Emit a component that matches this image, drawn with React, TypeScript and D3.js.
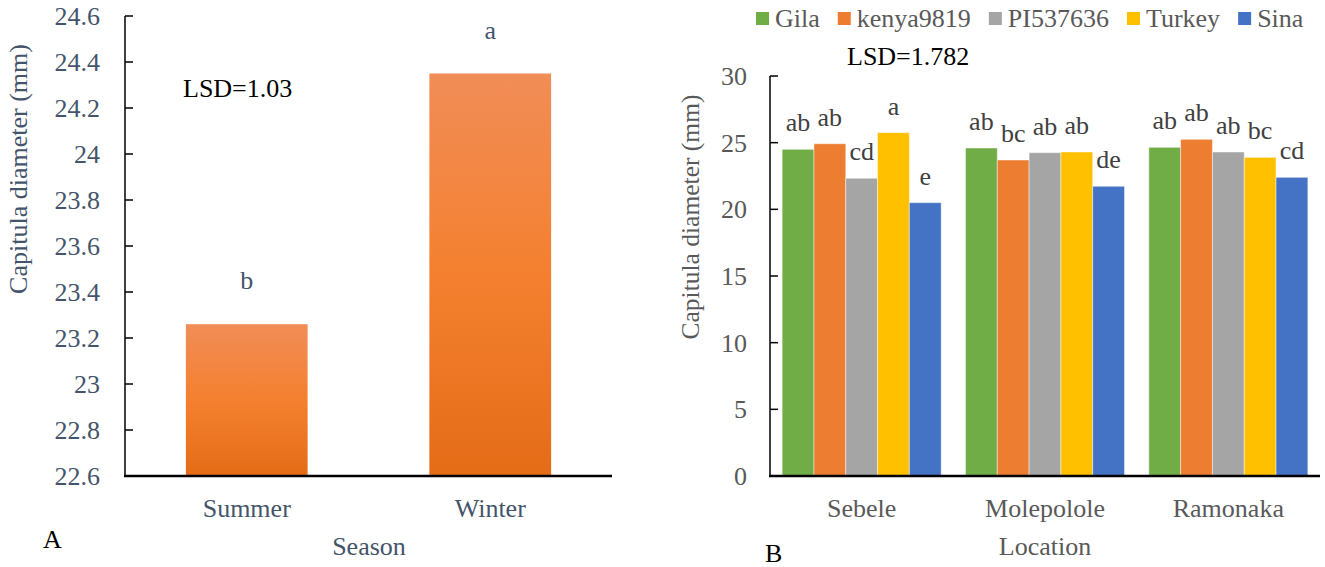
import React from "react";
import * as d3 from "d3";

// ---------- Data ----------
const seasons = ["Summer", "Winter"];
const seasonValues = [23.26, 24.35];
const seasonLetters = ["b", "a"];
const seasonTicks = [22.6, 22.8, 23, 23.2, 23.4, 23.6, 23.8, 24, 24.2, 24.4, 24.6];

const locations = ["Sebele", "Molepolole", "Ramonaka"];
const varieties = ["Gila", "kenya9819", "PI537636", "Turkey", "Sina"];
const varietyColors = ["#70AD47", "#ED7D31", "#A5A5A5", "#FFC000", "#4472C4"];
const gilaValues = [24.5, 24.6, 24.65];
const kenyaValues = [24.92, 23.7, 25.25];
const piValues = [22.33, 24.25, 24.3];
const turkeyValues = [25.75, 24.3, 23.9];
const sinaValues = [20.5, 21.73, 22.4];
const gilaLetters = ["ab", "ab", "ab"];
const kenyaLetters = ["ab", "bc", "ab"];
const piLetters = ["cd", "ab", "ab"];
const turkeyLetters = ["a", "ab", "bc"];
const sinaLetters = ["e", "de", "cd"];
const locationTicks = [0, 5, 10, 15, 20, 25, 30];

const seriesValues = [gilaValues, kenyaValues, piValues, turkeyValues, sinaValues];
const seriesLetters = [gilaLetters, kenyaLetters, piLetters, turkeyLetters, sinaLetters];

const FONT = '"Liberation Serif", Tinos, "Times New Roman", "DejaVu Serif", serif';

function measure(text: string, size: number): number {
  if (typeof document === "undefined") return text.length * size * 0.5;
  const c = document.createElement("canvas");
  const ctx = c.getContext("2d");
  if (!ctx) return text.length * size * 0.5;
  ctx.font = `${size}px ${FONT}`;
  return ctx.measureText(text).width;
}

export default function App() {
  // ----- Left chart -----
  const yL = d3.scaleLinear().domain([22.6, 24.6]).range([476, 16]);
  const xL = d3.scaleBand().domain(seasons).range([125, 612]).paddingInner(0.5).paddingOuter(0.25);
  const leftColor = "#44546A";

  // ----- Right chart -----
  const yR = d3.scaleLinear().domain([0, 30]).range([476, 76]);
  const x0 = d3.scaleBand().domain(locations).range([770, 1320]).paddingInner(0.1326).paddingOuter(0.0663);
  const x1 = d3.scaleBand().domain(varieties).range([0, x0.bandwidth()]);
  const grey = "#595959";

  // legend layout
  const legendSize = 26;
  let lx = 756;
  const legendItems = varieties.map((v, i) => {
    const item = { name: v, color: varietyColors[i], x: lx };
    lx += 13 + 6 + measure(v, legendSize) + 18;
    return item;
  });

  const ts = { fontFamily: FONT };

  return (
    <svg width={1325} height={567} style={{ position: "absolute", left: 0, top: 0, background: "#fff", fontFamily: FONT }}>
      <defs>
        <linearGradient id="orangeGrad" x1="0" y1="0" x2="0" y2="1">
          <stop offset="0" stopColor="#F18D57" />
          <stop offset="0.5" stopColor="#F4802F" />
          <stop offset="1" stopColor="#E46C17" />
        </linearGradient>
      </defs>

      {/* ---------------- Left chart ---------------- */}
      {seasons.map((s, i) => (
        <rect
          key={s}
          x={xL(s)!}
          y={yL(seasonValues[i])}
          width={xL.bandwidth()}
          height={yL(22.6) - yL(seasonValues[i])}
          fill="url(#orangeGrad)"
        />
      ))}
      {seasons.map((s, i) => (
        <text key={s + "l"} style={ts} x={xL(s)! + xL.bandwidth() / 2} y={yL(seasonValues[i]) - 35} fontSize={26} fill={leftColor} textAnchor="middle">
          {seasonLetters[i]}
        </text>
      ))}
      {/* y axis */}
      <line x1={125} x2={125} y1={yL(24.6)} y2={yL(22.6)} stroke="#000" strokeWidth={1.5} />
      {seasonTicks.map((t) => (
        <g key={t}>
          <line x1={125} x2={133} y1={yL(t)} y2={yL(t)} stroke="#000" strokeWidth={1.5} />
          <text style={ts} x={100} y={yL(t)} dy="0.35em" textAnchor="end" fontSize={26} fill={leftColor}>
            {d3.format("")(t)}
          </text>
        </g>
      ))}
      {/* x axis */}
      <line x1={124} x2={612} y1={476} y2={476} stroke="#000" strokeWidth={2.5} />
      {seasons.map((s) => (
        <text key={s + "x"} style={ts} x={xL(s)! + xL.bandwidth() / 2} y={517} textAnchor="middle" fontSize={26} fill={leftColor}>
          {s}
        </text>
      ))}
      <text style={ts} x={369} y={555} textAnchor="middle" fontSize={26} fill={leftColor}>Season</text>
      <text style={ts} transform="translate(27,169) rotate(-90)" textAnchor="middle" fontSize={26} fill={leftColor}>
        Capitula diameter (mm)
      </text>
      <text style={ts} x={183} y={97} fontSize={26} fill="#000">LSD=1.03</text>
      <text style={ts} x={43} y={548} fontSize={26} fill="#000">A</text>

      {/* ---------------- Right chart ---------------- */}
      {locations.map((loc, li) => (
        <g key={loc} transform={`translate(${x0(loc)},0)`}>
          {varieties.map((v, vi) => {
            const val = seriesValues[vi][li];
            return (
              <g key={v}>
                <rect
                  x={x1(v)!}
                  y={yR(val)}
                  width={x1.bandwidth()}
                  height={yR(0) - yR(val)}
                  fill={varietyColors[vi]}
                  stroke="#ffffff"
                  strokeOpacity={0.45}
                  strokeWidth={1}
                />
                <text style={ts} x={x1(v)! + x1.bandwidth() / 2} y={yR(val) - 18} textAnchor="middle" fontSize={26} fill="#404040">
                  {seriesLetters[vi][li]}
                </text>
              </g>
            );
          })}
        </g>
      ))}
      <line x1={770} x2={770} y1={yR(30)} y2={yR(0)} stroke="#000" strokeWidth={1.5} />
      {locationTicks.map((t) => (
        <g key={t}>
          <line x1={770} x2={778} y1={yR(t)} y2={yR(t)} stroke="#000" strokeWidth={1.5} />
          <text style={ts} x={747} y={yR(t)} dy="0.35em" textAnchor="end" fontSize={26} fill={grey}>
            {t}
          </text>
        </g>
      ))}
      <line x1={769} x2={1320} y1={476} y2={476} stroke="#000" strokeWidth={2.5} />
      {locations.map((loc) => (
        <text key={loc + "x"} style={ts} x={x0(loc)! + x0.bandwidth() / 2} y={517} textAnchor="middle" fontSize={26} fill={grey}>
          {loc}
        </text>
      ))}
      <text style={ts} x={1045} y={555} textAnchor="middle" fontSize={26} fill={grey}>Location</text>
      <text style={ts} transform="translate(699,217) rotate(-90)" textAnchor="middle" fontSize={25.5} fill={grey}>
        Capitula diameter (mm)
      </text>
      <text style={ts} x={847} y={65} fontSize={26} fill="#000">LSD=1.782</text>
      <text style={ts} x={765} y={562} fontSize={26} fill="#000">B</text>

      {/* legend */}
      {legendItems.map((it) => (
        <g key={it.name}>
          <rect x={it.x} y={12} width={13} height={13} fill={it.color} />
          <text style={ts} x={it.x + 13 + 6} y={27} fontSize={legendSize} fill={grey}>
            {it.name}
          </text>
        </g>
      ))}
    </svg>
  );
}
